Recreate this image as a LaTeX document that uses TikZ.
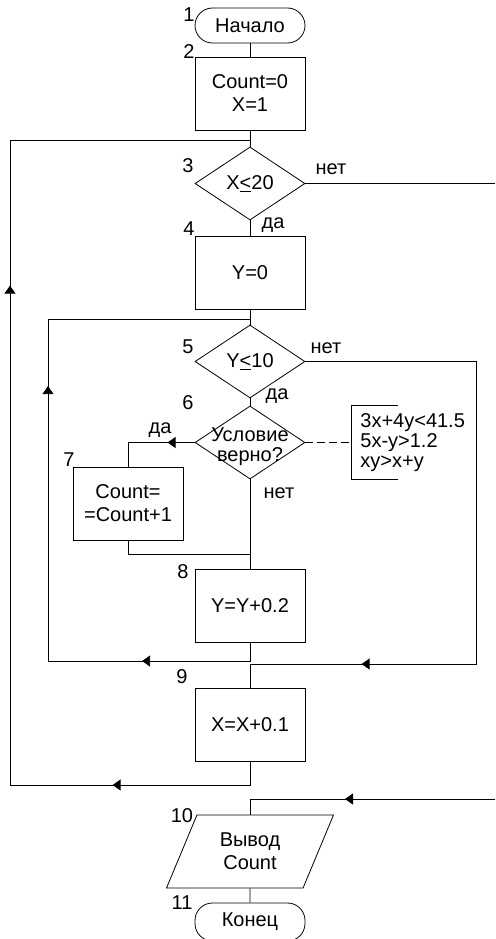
\documentclass[tikz,border=0pt]{standalone}
\usepackage{fontspec}
\setmainfont{Liberation Sans}
\usetikzlibrary{arrows.meta,shapes.geometric,decorations.markings}

\begin{document}
\begin{tikzpicture}[
    x=1pt, y=-1pt,
    line width=0.8pt,
    >={Triangle[length=8pt,width=11pt]},
    every node/.style={font={\fontsize{20}{23}\selectfont}},
    box/.style={draw, minimum width=110pt, minimum height=73pt,
                inner sep=2pt, align=center},
    term/.style={draw, rounded corners=17.5pt, minimum width=110pt,
                 minimum height=35pt, inner sep=2pt},
    decision/.style={diamond, draw, minimum width=110pt,
                     minimum height=73pt, inner sep=1pt, aspect=1.5},
    io/.style={trapezium, trapezium left angle=52,
               trapezium right angle=128, trapezium stretches body,
               draw, minimum width=167pt, minimum height=73pt,
               inner sep=1pt, align=center},
    num/.style={inner sep=0pt},
    note/.style={inner sep=0pt, inner xsep=9pt, align=left,
                 minimum height=73pt, font={\fontsize{20}{20}\selectfont}},
    midtip/.style={postaction={decorate, decoration={markings,
                   mark=at position #1 with {\arrow{>}}}}},
]
    \useasboundingbox (0,0) rectangle (495,939);

    % blocks
    \node[term] (start) at (250,25.5) {Начало};
    \node[box] (init) at (250,93.5) {Count=0\\X=1};
    \node[decision] (dec3) at (250,183.5) {X\underline{<}20};
    \node[box] (yzero) at (250,272.5) {Y=0};
    \node[decision] (dec5) at (250,361.5) {Y\underline{<}10};
    \node[decision, label={[align=center, yshift=-4pt,
          font={\fontsize{20}{20}\selectfont}]center:Условие\\верно?}]
          (dec6) at (250,442.5) {};
    \node[box] (count) at (128,503.5) {Count=\\=Count+1};
    \node[box] (ystep) at (250,606) {Y=Y+0.2};
    \node[box] (xstep) at (250,724.5) {X=X+0.1};
    \node[io] (out) at (250,851.5) {Вывод\\Count};
    \node[term, minimum height=38pt] (stop) at (250,922) {Конец};
    \node[note, anchor=west] (cond) at (351,442.5)
          {3x+4y<41.5\\5x-y>1.2\\xy>x+y};

    % block numbers
    \node[num] (n1) at (189,15) {1};
    \node[num] (n2) at (189,52) {2};
    \node[num] (n3) at (188,166) {3};
    \node[num] (n4) at (189,229) {4};
    \node[num] (n5) at (188,347) {5};
    \node[num] (n6) at (188,403) {6};
    \node[num] (n7) at (69,460) {7};
    \node[num] (n8) at (183,572) {8};
    \node[num] (n9) at (182,677) {9};
    \node[num] (n10) at (182,816) {10};
    \node[num] (n11) at (182,903) {11};

    % branch labels
    \node (no3) at (331,169) {нет};
    \node (yes3) at (273,225) {да};
    \node (no5) at (326,348) {нет};
    \node (yes5) at (277,396) {да};
    \node (yes6) at (160,430) {да};
    \node (no6) at (279,493) {нет};

    % junctions
    \coordinate (j3) at (250,140);
    \coordinate (j5) at (250,319);
    \coordinate (j8) at (250,554);
    \coordinate (lp8) at (48,661);
    \coordinate (lp9) at (10,785);
    \coordinate (rt5) at (476,664);
    \coordinate (exit3) at (495,183.5);
    \coordinate (entry10) at (495,799);

    % connectors
    \draw (start) -- (init);
    \draw (init) -- (dec3);
    \draw (dec3) -- (exit3);
    \draw (dec3) -- (yzero);
    \draw (yzero) -- (dec5);
    \draw (dec5) -- (dec6);
    \draw (dec6) -- (ystep);
    \draw[midtip=27pt] (dec6.west) -| (count.north);
    \draw (count.south) |- (j8);
    \draw[midtip=126pt, midtip=495pt] (ystep.south) |- (lp8) |- (j5);
    \draw[midtip=587.5pt] (dec5.east) -| (rt5) -| (xstep.north);
    \draw[midtip=161pt, midtip=763pt] (xstep.south) |- (lp9) |- (j3);
    \draw[midtip=150pt] (entry10) -| (out.north);
    \draw (out) -- (stop);
    \draw[dash pattern=on 8pt off 4pt] (dec6.east) -- (cond.west);
    \draw ([xshift=47pt]cond.north west) -- (cond.north west)
          -- (cond.south west) -- ([xshift=47pt]cond.south west);
\end{tikzpicture}
\end{document}
